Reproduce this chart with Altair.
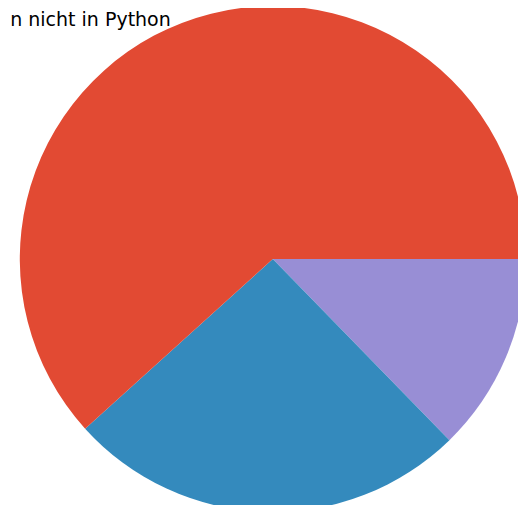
import math
import altair as alt
import pandas as pd

categories = ["Purple", "Blue", "Red"]
shares = [12.7, 25.6, 61.7]
colors = ["#988ED5", "#348ABD", "#E24A33"]
labels = ["", "", "n nicht in Python"]

df = pd.DataFrame({"cat": categories, "share": shares, "label": labels,
                   "ord": list(range(len(categories)))})

CX, CY, R = 264.8, 251, 253

base = alt.Chart(df).encode(
    theta=alt.Theta("share:Q", stack=True,
                    scale=alt.Scale(range=[math.pi / 2, math.pi / 2 + 2 * math.pi])),
    order=alt.Order("ord:Q"),
)

pie = base.mark_arc(outerRadius=R, strokeWidth=0).encode(
    x=alt.value(CX), y=alt.value(CY),
    color=alt.Color("cat:N", scale=alt.Scale(domain=categories, range=colors), legend=None),
)

text = base.mark_text(radius=R * 1.1, align="right", baseline="alphabetic",
                      font="DejaVu Sans", fontSize=19, color="black", dy=27, dx=-2).encode(
    x=alt.value(CX), y=alt.value(CY),
    text="label:N",
)

chart = alt.layer(pie, text).properties(
    width=510, height=497, padding=0, autosize=alt.AutoSizeParams(type="none")
).configure_view(stroke=None)

chart.save("out.html", embed_options={"renderer": "svg", "actions": False})
